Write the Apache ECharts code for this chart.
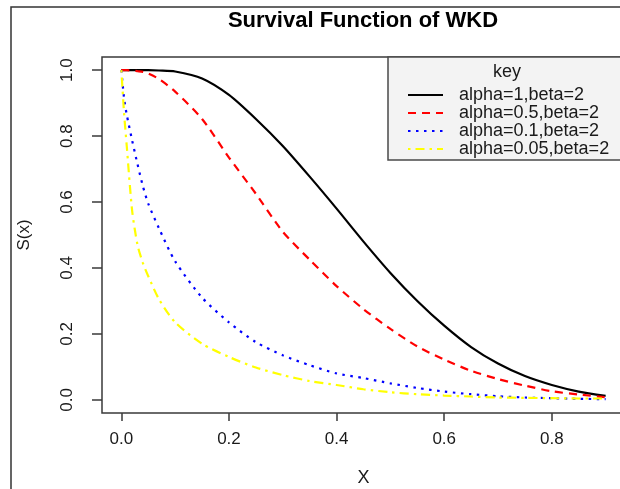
<!DOCTYPE html>
<html>
<head>
<meta charset="utf-8">
<script src="https://cdn.jsdelivr.net/npm/echarts@6/dist/echarts.min.js"></script>
<style>
  html, body { margin: 0; padding: 0; background: #fff; }
  #chart { width: 620px; height: 489px; }
</style>
</head>
<body>
<div id="chart"></div>
<script>
  // values
  var xValues = [0, 0.005, 0.01, 0.02, 0.03, 0.04, 0.05, 0.07, 0.1, 0.15, 0.2, 0.25, 0.3, 0.35,
    0.4, 0.45, 0.5, 0.55, 0.6, 0.65, 0.7, 0.75, 0.8, 0.85, 0.9]
  var alpha1 = [1, 1, 1, 1, 1, 1, 1, 0.999, 0.996, 0.975, 0.925, 0.852, 0.77, 0.677,
    0.58, 0.48, 0.385, 0.3, 0.225, 0.16, 0.11, 0.072, 0.045, 0.025, 0.012]
  var alpha05 = [1, 1, 1, 0.999, 0.997, 0.995, 0.99, 0.973, 0.935, 0.852, 0.735, 0.625, 0.51, 0.425,
    0.345, 0.275, 0.215, 0.162, 0.122, 0.088, 0.063, 0.043, 0.026, 0.016, 0.008]
  var alpha01 = [1, 0.915, 0.865, 0.787, 0.715, 0.648, 0.595, 0.52, 0.42, 0.31, 0.235, 0.175, 0.135, 0.105,
    0.08, 0.066, 0.05, 0.036, 0.025, 0.017, 0.011, 0.007, 0.005, 0.003, 0.002]
  var alpha005 = [1, 0.87, 0.77, 0.574, 0.47, 0.415, 0.375, 0.305, 0.235, 0.17, 0.13, 0.098, 0.075, 0.057,
    0.045, 0.032, 0.023, 0.017, 0.013, 0.01, 0.007, 0.006, 0.005, 0.004, 0.004]
  var seriesNames = ['alpha=1,beta=2', 'alpha=0.5,beta=2', 'alpha=0.1,beta=2', 'alpha=0.05,beta=2']
  var xTicks = [0, 0.2, 0.4, 0.6, 0.8]
  var yTicks = [0, 0.2, 0.4, 0.6, 0.8, 1]

  var font = 'Liberation Sans, Arial, sans-serif'

  function pairs(ys) {
    return xValues.map(function (x, i) { return [x, ys[i]] })
  }

  function curve(name, ys, color, type) {
    return {
      name: name,
      type: 'line',
      data: pairs(ys),
      symbol: 'none',
      smooth: 0.25,
      lineStyle: { color: color, width: 2.2, type: type },
      itemStyle: { color: color }
    }
  }

  var chart = echarts.init(document.getElementById('chart'))
  chart.setOption({
    animation: false,
    backgroundColor: '#fff',
    grid: {
      left: 102,
      top: 57,
      right: -5,
      bottom: 76,
      outerBoundsMode: 'none',
      show: true,
      borderColor: '#3a3a3a',
      borderWidth: 1.5,
      backgroundColor: 'transparent'
    },
    xAxis: {
      type: 'value',
      min: -0.036,
      max: 0.936,
      name: 'X',
      nameLocation: 'middle',
      nameGap: 56,
      nameTextStyle: { fontFamily: font, fontSize: 18, color: '#1a1a1a' },
      axisLine: { show: false, onZero: false },
      splitLine: { show: false },
      axisTick: {
        show: true,
        inside: false,
        customValues: xTicks,
        length: 8,
        lineStyle: { color: '#3a3a3a', width: 1.5 }
      },
      axisLabel: {
        customValues: xTicks,
        margin: 18,
        fontFamily: font,
        fontSize: 17,
        color: '#1a1a1a',
        formatter: function (v) { return v.toFixed(1) }
      }
    },
    yAxis: {
      type: 'value',
      min: -0.04,
      max: 1.04,
      name: 'S(x)',
      nameLocation: 'middle',
      nameRotate: 90,
      nameGap: 69,
      nameTextStyle: { fontFamily: font, fontSize: 17, color: '#1a1a1a' },
      axisLine: { show: false, onZero: false },
      splitLine: { show: false },
      axisTick: {
        show: true,
        inside: false,
        customValues: yTicks,
        length: 10,
        lineStyle: { color: '#3a3a3a', width: 1.5 }
      },
      axisLabel: {
        customValues: yTicks,
        rotate: 90,
        margin: 26,
        fontFamily: font,
        fontSize: 17,
        color: '#1a1a1a',
        formatter: function (v) { return v.toFixed(1) }
      }
    },
    legend: {
      data: seriesNames,
      orient: 'vertical',
      left: 388,
      top: 57,
      padding: [29, 24, 2, 19],
      itemWidth: 35,
      itemHeight: 14,
      itemGap: 0,
      backgroundColor: '#f3f3f3',
      borderColor: '#4a4a4a',
      borderWidth: 1.5,
      borderRadius: 0,
      selectedMode: false,
      itemStyle: { opacity: 0 },
      textStyle: {
        fontFamily: font,
        fontSize: 18,
        color: '#1a1a1a',
        lineHeight: 18,
        padding: [0, 0, 0, 11]
      }
    },
    graphic: [
      {
        type: 'rect',
        shape: { x: 11, y: 7, width: 700, height: 600 },
        style: { fill: 'none', stroke: '#333', lineWidth: 1.5 },
        silent: true,
        z: 0
      },
      {
        type: 'text',
        x: 363,
        y: 21,
        style: {
          text: 'Survival Function of WKD',
          font: 'bold 22px ' + font,
          fill: '#000',
          align: 'center',
          verticalAlign: 'middle'
        },
        z: 10
      },
      {
        type: 'text',
        x: 507,
        y: 72,
        style: {
          text: 'key',
          font: '18px ' + font,
          fill: '#1a1a1a',
          align: 'center',
          verticalAlign: 'middle'
        },
        z: 100
      }
    ],
    series: [
      curve(seriesNames[0], alpha1, '#000000', 'solid'),
      curve(seriesNames[1], alpha05, '#ff0000', [8, 6]),
      curve(seriesNames[2], alpha01, '#0000ff', [2.5, 5.5]),
      curve(seriesNames[3], alpha005, '#ffff00', [2.5, 5, 9, 5])
    ]
  })
</script>
</body>
</html>
